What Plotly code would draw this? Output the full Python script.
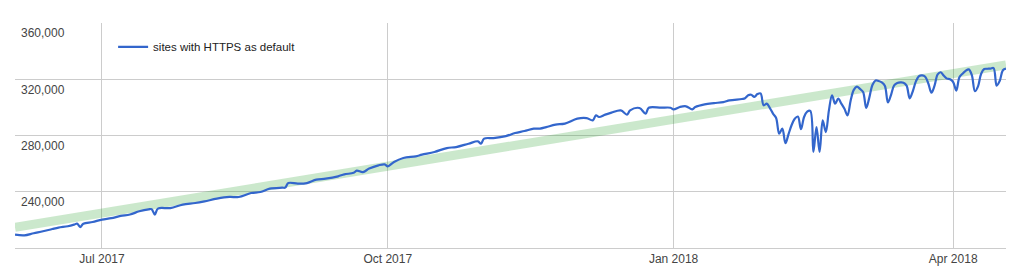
import plotly.graph_objects as go

dates = [
    "2017-06-03", "2017-06-06", "2017-06-09", "2017-06-12", "2017-06-15", "2017-06-17",
    "2017-06-20", "2017-06-22", "2017-06-23", "2017-06-24", "2017-06-25", "2017-06-28",
    "2017-07-01", "2017-07-04", "2017-07-07", "2017-07-10", "2017-07-13", "2017-07-16",
    "2017-07-17", "2017-07-18", "2017-07-19", "2017-07-23", "2017-07-27", "2017-07-31",
    "2017-08-03", "2017-08-07", "2017-08-11", "2017-08-14", "2017-08-18", "2017-08-21",
    "2017-08-24", "2017-08-28", "2017-08-29", "2017-08-30", "2017-09-02", "2017-09-05",
    "2017-09-08", "2017-09-11", "2017-09-15", "2017-09-17", "2017-09-20", "2017-09-21",
    "2017-09-23", "2017-09-25", "2017-09-28", "2017-09-30", "2017-10-01", "2017-10-03",
    "2017-10-06", "2017-10-10", "2017-10-12", "2017-10-16", "2017-10-20", "2017-10-23",
    "2017-10-27", "2017-10-30", "2017-10-31", "2017-11-01", "2017-11-04", "2017-11-08",
    "2017-11-11", "2017-11-14", "2017-11-17", "2017-11-19", "2017-11-21", "2017-11-24",
    "2017-11-27", "2017-12-01", "2017-12-04", "2017-12-06", "2017-12-07", "2017-12-08",
    "2017-12-10", "2017-12-12", "2017-12-15", "2017-12-17", "2017-12-18", "2017-12-21",
    "2017-12-23", "2017-12-24", "2017-12-28", "2017-12-31",
    "2018-01-01", "2018-01-03", "2018-01-05", "2018-01-07", "2018-01-08", "2018-01-11",
    "2018-01-14", "2018-01-17", "2018-01-19", "2018-01-23", "2018-01-24", "2018-01-25",
    "2018-01-26", "2018-01-27", "2018-01-28", "2018-01-29", "2018-01-30", "2018-01-31",
    "2018-02-01", "2018-02-02", "2018-02-03", "2018-02-04", "2018-02-05", "2018-02-06",
    "2018-02-07", "2018-02-08", "2018-02-09", "2018-02-10", "2018-02-11", "2018-02-12",
    "2018-02-13", "2018-02-14", "2018-02-15", "2018-02-16", "2018-02-17", "2018-02-18",
    "2018-02-19", "2018-02-20", "2018-02-21", "2018-02-22", "2018-02-23", "2018-02-24",
    "2018-02-25", "2018-02-26", "2018-02-27", "2018-02-28", "2018-03-01", "2018-03-02",
    "2018-03-03", "2018-03-04", "2018-03-05", "2018-03-06", "2018-03-07", "2018-03-08",
    "2018-03-09", "2018-03-10", "2018-03-11", "2018-03-12", "2018-03-13", "2018-03-14",
    "2018-03-15", "2018-03-16", "2018-03-17", "2018-03-18", "2018-03-19", "2018-03-20",
    "2018-03-21", "2018-03-22", "2018-03-23", "2018-03-24", "2018-03-25", "2018-03-26",
    "2018-03-27", "2018-03-28", "2018-03-29", "2018-03-30", "2018-03-31", "2018-04-01",
    "2018-04-02", "2018-04-03", "2018-04-04", "2018-04-05", "2018-04-06", "2018-04-07",
    "2018-04-08", "2018-04-09", "2018-04-10", "2018-04-11", "2018-04-12", "2018-04-13",
    "2018-04-14", "2018-04-15", "2018-04-16", "2018-04-17", "2018-04-18",
]

sites = [
    209500, 209000, 210500, 211900, 213500, 214500,
    215500, 216600, 217300, 214900, 217200, 218500,
    220200, 221200, 222800, 223800, 226100, 227500,
    227600, 223800, 228000, 228400, 230900, 232000,
    233200, 235100, 236300, 236300, 239100, 239800,
    242200, 242900, 243000, 246200, 245800, 246200,
    248600, 249300, 251000, 252400, 253500, 255000,
    254000, 256500, 258800, 259500, 258100, 261200,
    264000, 265200, 266400, 268300, 271100, 271800,
    274200, 275900, 274200, 277800, 278200, 279600,
    281800, 283200, 284900, 284900, 286000, 287800,
    288500, 292000, 292400, 290800, 294400, 293200,
    294900, 296300, 297900, 294900, 297900, 299600,
    295600, 299800, 299800, 299800,
    298600, 300300, 300800, 298600, 300300, 302200,
    303100, 303800, 305000, 306000, 306500, 308600,
    309000, 307500, 309500, 310000, 301500, 302700,
    299500, 295600, 292500, 281300, 284900, 274500,
    281000, 287500, 292000, 293500, 284500, 293200,
    297000, 297500, 268300, 286000, 268300, 290800,
    282500, 297900, 308600, 302700, 306200, 302700,
    299000, 294400, 305000, 312500, 314800, 313200,
    311000, 299600, 307000, 316000, 319200, 318800,
    317800, 315500, 303500, 309000, 315700, 317300,
    317800, 317600, 315500, 306500, 311500, 318500,
    322300, 322800, 321800, 317000, 310500, 315500,
    323500, 325000, 322500, 320500, 320000, 318000,
    312000, 321500, 324000, 326000, 327100, 323000,
    311500, 315000, 324000, 327300, 327500, 327600,
    328000, 315500, 319000, 326500, 327600,
]

trend_dates = ["2017-06-03", "2018-04-18"]
trend_values = [214700, 330300]

x_ticks = ["2017-07-01", "2017-10-01", "2018-01-01", "2018-04-01"]
y_ticks = [240000, 280000, 320000, 360000]

FONT = "Arial, 'Liberation Sans', sans-serif"
GRID = "#cccccc"

fig = go.Figure()
fig.add_trace(go.Scatter(
    x=trend_dates, y=trend_values, mode="lines",
    line=dict(color="rgba(16,150,24,0.22)", width=9),
    showlegend=False, hoverinfo="skip",
))
fig.add_trace(go.Scatter(
    x=dates, y=sites, mode="lines", name="sites with HTTPS as default",
    line=dict(color="#3366cc", width=2.2, shape="spline", smoothing=1.0),
))

fig.update_layout(
    width=1024, height=280,
    margin=dict(l=15, r=18, t=23, b=32),
    paper_bgcolor="white", plot_bgcolor="white",
    font=dict(family=FONT, size=12, color="#444444"),
    legend=dict(
        x=0.099, y=0.894, xanchor="left", yanchor="middle",
        bgcolor="rgba(0,0,0,0)", borderwidth=0,
        font=dict(family=FONT, size=11.5, color="#222222"),
    ),
)
fig.update_xaxes(
    type="date", range=["2017-06-03", "2018-04-18"],
    tickvals=x_ticks, tickformat="%b %Y",
    showgrid=True, gridcolor=GRID, gridwidth=1,
    showline=True, linecolor=GRID, linewidth=1,
    ticks="", zeroline=False,
    tickfont=dict(family=FONT, size=12, color="#444444"),
)
fig.update_yaxes(
    range=[200000, 360060], tickvals=y_ticks, tickformat=",d",
    showgrid=True, gridcolor=GRID, gridwidth=1,
    ticklabelposition="inside", ticklabelshift=10, ticklabelstandoff=3,
    ticks="", zeroline=False, showline=False,
    tickfont=dict(family=FONT, size=12, color="#444444"),
)

fig.write_html("out.html")
